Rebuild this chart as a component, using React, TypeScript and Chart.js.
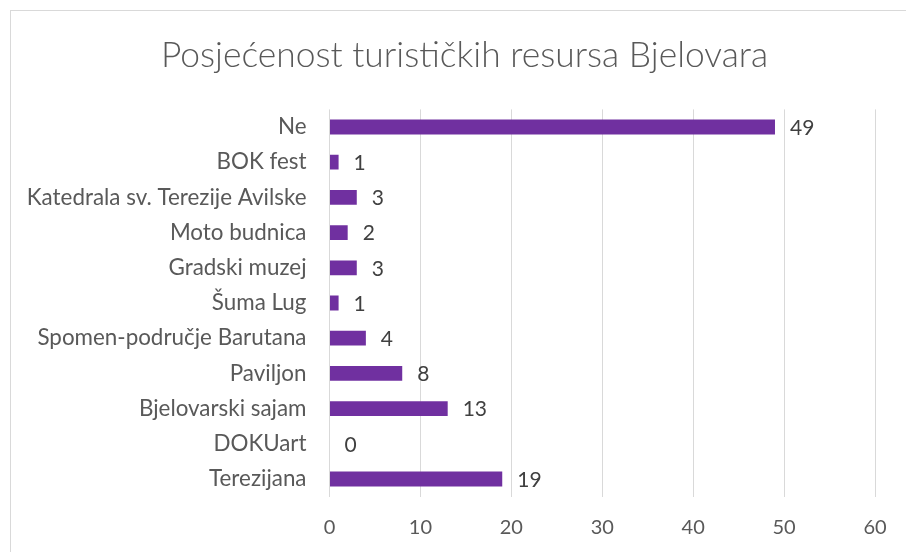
import React, { useEffect, useRef } from "react";
import { Chart, registerables } from "chart.js";

Chart.register(...registerables);

const categories = [
  "Ne",
  "BOK fest",
  "Katedrala sv. Terezije Avilske",
  "Moto budnica",
  "Gradski muzej",
  "Šuma Lug",
  "Spomen-područje Barutana",
  "Paviljon",
  "Bjelovarski sajam",
  "DOKUart",
  "Terezijana",
];
const visits = [49, 1, 3, 2, 3, 1, 4, 8, 13, 0, 19];
const xTicks = [0, 10, 20, 30, 40, 50, 60];
const titleText = "Posjećenost turističkih resursa Bjelovara";

const FONT = "Lato, 'Open Sans', sans-serif";

const frame = {
  id: "frame",
  beforeDraw(chart: any) {
    const ctx = chart.ctx;
    ctx.save();
    ctx.fillStyle = "#ffffff";
    ctx.fillRect(0, 0, chart.width, chart.height);
    ctx.strokeStyle = "#d9d9d9";
    ctx.lineWidth = 1;
    ctx.strokeRect(10.5, 10.5, chart.width + 50, chart.height + 50);
    ctx.restore();
  },
};

// Title centred on the full (cropped) chart frame, which extends past the right edge.
const frameTitle = {
  id: "frameTitle",
  afterDraw(chart: any) {
    const ctx = chart.ctx;
    ctx.save();
    ctx.fillStyle = "#595959";
    ctx.font = `300 35.4px ${FONT}`;
    ctx.textAlign = "center";
    ctx.textBaseline = "middle";
    ctx.fillText(titleText, 464.5, 56);
    ctx.restore();
  },
};

const valueLabels = {
  id: "valueLabels",
  afterDatasetsDraw(chart: any) {
    const ctx = chart.ctx;
    const meta = chart.getDatasetMeta(0);
    const data = chart.data.datasets[0].data as number[];
    ctx.save();
    ctx.fillStyle = "#404040";
    ctx.font = `21px ${FONT}`;
    ctx.textAlign = "left";
    ctx.textBaseline = "middle";
    meta.data.forEach((el: any, i: number) => {
      ctx.fillText(String(data[i]), el.x + 15, el.y + 1);
    });
    ctx.restore();
  },
};

export default function App() {
  const ref = useRef<HTMLCanvasElement | null>(null);
  useEffect(() => {
    if (!ref.current) return;
    const chart = new Chart(ref.current, {
      type: "bar",
      data: {
        labels: categories,
        datasets: [
          {
            data: visits,
            backgroundColor: "#7030A0",
            borderWidth: 0,
            categoryPercentage: 1,
            barPercentage: 0.42,
          },
        ],
      },
      options: {
        indexAxis: "y",
        responsive: false,
        animation: false,
        devicePixelRatio: 1,
        layout: { padding: { left: 0, right: 31, top: 109.4, bottom: 0 } },
        plugins: {
          legend: { display: false },
          tooltip: { enabled: false },
          title: { display: false },
        },
        scales: {
          x: {
            min: 0,
            max: 60,
            afterBuildTicks(scale: any) {
              scale.ticks = xTicks.map((v) => ({ value: v }));
            },
            afterFit(scale: any) {
              scale.height = 55.4;
            },
            grid: { color: "#d9d9d9", drawTicks: false, lineWidth: 1 },
            border: { display: false },
            ticks: {
              color: "#595959",
              font: { family: FONT, size: 20 },
              padding: 19,
            },
          },
          y: {
            afterFit(scale: any) {
              scale.width = 329.5;
            },
            grid: { display: false, drawTicks: false },
            border: { display: false },
            ticks: {
              color: "#595959",
              font: { family: FONT, size: 22.4 },
              padding: 23,
              autoSkip: false,
            },
          },
        },
      },
      plugins: [frame, frameTitle, valueLabels],
    });
    return () => chart.destroy();
  }, []);
  return (
    <div style={{ position: "absolute", left: 0, top: 0, width: 906, height: 552 }}>
      <canvas ref={ref} width={906} height={552} style={{ display: "block" }} />
    </div>
  );
}
